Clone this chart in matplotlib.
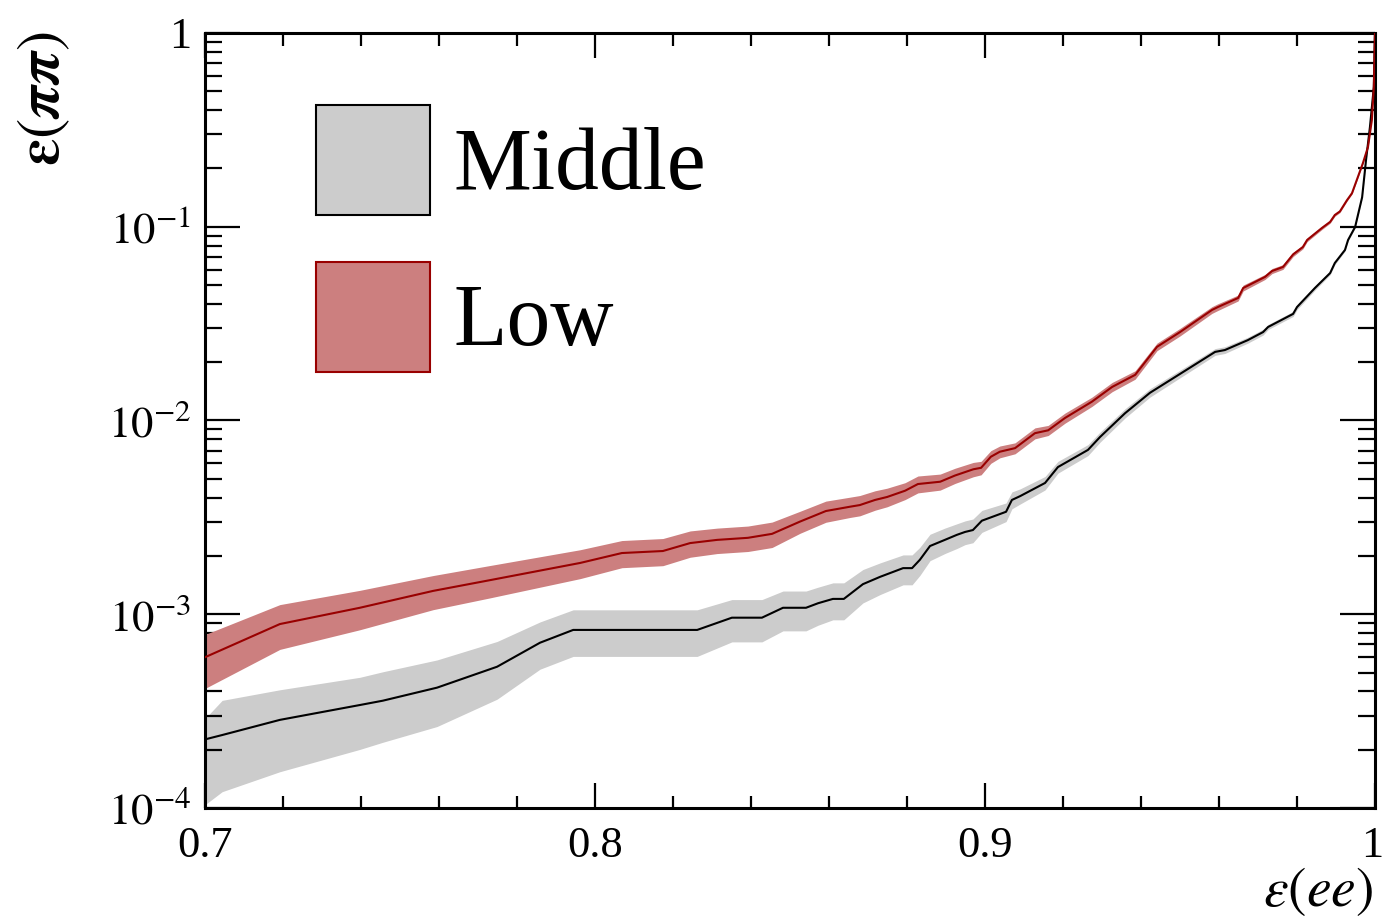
import matplotlib
matplotlib.use("Agg")
import matplotlib.pyplot as plt
import numpy as np
from matplotlib.patches import Patch
from matplotlib.transforms import ScaledTranslation
from matplotlib.ticker import MultipleLocator, LogLocator, FixedLocator, FixedFormatter

plt.rcParams["font.family"] = ["Liberation Serif", "DejaVu Serif"]
plt.rcParams["mathtext.fontset"] = "stix"

# ---- efficiency curves: eps(pipi) vs eps(ee) ----
low_x = [0.7000, 0.7192, 0.7397, 0.7585, 0.7731, 0.7962, 0.8069, 0.8174, 0.8244, 0.8313,
         0.8392, 0.8454, 0.8526, 0.8592, 0.8654, 0.8679, 0.8718, 0.8749, 0.8795, 0.8828,
         0.8885, 0.8923, 0.8970, 0.8990, 0.9015, 0.9038, 0.9077, 0.9128, 0.9162, 0.9205,
         0.9274, 0.9326, 0.9385, 0.9441, 0.9500, 0.9582, 0.9597, 0.9649, 0.9662, 0.9718,
         0.9736, 0.9764, 0.9790, 0.9815, 0.9826, 0.9864, 0.9885, 0.9897, 0.9910, 0.9928,
         0.9941, 0.9969, 0.9982, 0.9992, 0.9997, 1.0000]
low_y = [6.0e-4, 8.9e-4, 1.08e-3, 1.32e-3, 1.50e-3, 1.84e-3, 2.07e-3, 2.12e-3, 2.33e-3, 2.42e-3,
         2.48e-3, 2.60e-3, 3.01e-3, 3.41e-3, 3.59e-3, 3.66e-3, 3.89e-3, 4.03e-3, 4.34e-3, 4.70e-3,
         4.83e-3, 5.2e-3, 5.6e-3, 5.7e-3, 6.5e-3, 6.9e-3, 7.2e-3, 8.6e-3, 8.9e-3, 1.03e-2,
         1.25e-2, 1.49e-2, 1.72e-2, 2.40e-2, 2.86e-2, 3.72e-2, 3.85e-2, 4.29e-2, 4.83e-2, 5.51e-2,
         5.91e-2, 6.20e-2, 7.2e-2, 7.86e-2, 8.55e-2, 9.86e-2, 0.106, 0.115, 0.120, 0.137,
         0.149, 0.213, 0.258, 0.356, 0.526, 1.0]
# relative uncertainty of each point
low_err = [0.31, 0.26, 0.23, 0.20, 0.19, 0.17, 0.16, 0.16, 0.155, 0.15,
           0.15, 0.15, 0.13, 0.125, 0.12, 0.12, 0.115, 0.11, 0.10, 0.10,
           0.095, 0.09, 0.085, 0.08, 0.075, 0.07, 0.065, 0.065, 0.06, 0.06,
           0.055, 0.055, 0.05, 0.045, 0.045, 0.04, 0.04, 0.035, 0.035, 0.03,
           0.03, 0.028, 0.025, 0.022, 0.02, 0.018, 0.016, 0.015, 0.014, 0.012,
           0.011, 0.008, 0.006, 0.004, 0.002, 0.0]

mid_x = [0.7000, 0.7044, 0.7192, 0.7397, 0.7456, 0.7595, 0.7749, 0.7859, 0.7944, 0.8262,
         0.8351, 0.8428, 0.8482, 0.8541, 0.8572, 0.8610, 0.8638, 0.8687, 0.8731, 0.8790,
         0.8813, 0.8833, 0.8859, 0.8897, 0.8928, 0.8949, 0.8969, 0.8992, 0.9054, 0.9069,
         0.9090, 0.9154, 0.9187, 0.9264, 0.9295, 0.9359, 0.9423, 0.9590, 0.9615, 0.9674,
         0.9713, 0.9726, 0.9790, 0.9800, 0.9846, 0.9885, 0.9897, 0.9923, 0.9931, 0.9949,
         0.9967, 0.9977, 0.9987, 0.9997, 1.0000]
mid_y = [2.26e-4, 2.38e-4, 2.85e-4, 3.40e-4, 3.58e-4, 4.18e-4, 5.36e-4, 7.13e-4, 8.3e-4, 8.3e-4,
         9.6e-4, 9.6e-4, 1.08e-3, 1.08e-3, 1.14e-3, 1.20e-3, 1.20e-3, 1.43e-3, 1.56e-3, 1.73e-3,
         1.73e-3, 1.91e-3, 2.25e-3, 2.42e-3, 2.57e-3, 2.66e-3, 2.72e-3, 3.04e-3, 3.38e-3, 3.89e-3,
         4.07e-3, 4.76e-3, 5.75e-3, 7.05e-3, 8.22e-3, 1.09e-2, 1.39e-2, 2.26e-2, 2.31e-2, 2.60e-2,
         2.86e-2, 3.04e-2, 3.55e-2, 3.85e-2, 4.83e-2, 5.77e-2, 6.50e-2, 7.59e-2, 8.55e-2, 9.97e-2,
         0.142, 0.221, 0.327, 0.526, 1.0]
mid_err_up = [0.28, 0.51, 0.43, 0.39, 0.41, 0.39, 0.35, 0.28, 0.27, 0.27,
              0.24, 0.24, 0.22, 0.22, 0.21, 0.21, 0.21, 0.19, 0.18, 0.17,
              0.17, 0.16, 0.15, 0.15, 0.14, 0.14, 0.14, 0.13, 0.11, 0.10,
              0.09, 0.08, 0.07, 0.065, 0.06, 0.055, 0.05, 0.04, 0.04, 0.035,
              0.035, 0.03, 0.03, 0.03, 0.025, 0.02, 0.02, 0.015, 0.015, 0.012,
              0.01, 0.008, 0.005, 0.003, 0.0]
mid_err_dn = [0.54, 0.49, 0.46, 0.41, 0.39, 0.37, 0.32, 0.27, 0.27, 0.27,
              0.25, 0.25, 0.24, 0.24, 0.23, 0.22, 0.22, 0.20, 0.19, 0.18,
              0.18, 0.17, 0.16, 0.15, 0.15, 0.14, 0.14, 0.13, 0.11, 0.10,
              0.09, 0.08, 0.07, 0.065, 0.06, 0.055, 0.05, 0.04, 0.04, 0.035,
              0.035, 0.03, 0.03, 0.03, 0.025, 0.02, 0.02, 0.015, 0.015, 0.012,
              0.01, 0.008, 0.005, 0.003, 0.0]

series_names = ["Middle", "Low"]
y_tick_vals = [1e-4, 1e-3, 1e-2, 1e-1, 1]
y_tick_text = [r"$10^{-4}$", r"$10^{-3}$", r"$10^{-2}$", r"$10^{-1}$", "1"]
x_tick_vals = [0.7, 0.8, 0.9, 1.0]
x_tick_text = ["0.7", "0.8", "0.9", "1"]

GREY_FILL = "#cccccc"
RED_FILL = "#cc7f7f"
RED_LINE = "#990000"

W, H = 1383, 921
fig = plt.figure(figsize=(W / 100, H / 100), dpi=100)
ax = fig.add_axes([205 / W, 1 - 808 / H, (1375 - 205) / W, (808 - 33) / H])

mx, my = np.array(mid_x), np.array(mid_y)
lx, ly = np.array(low_x), np.array(low_y)

ax.fill_between(mx, my * (1 - np.array(mid_err_dn)), my * (1 + np.array(mid_err_up)),
                color=GREY_FILL, lw=0, zorder=1)
ax.fill_between(lx, ly * (1 - np.array(low_err)), ly * (1 + np.array(low_err)),
                color=RED_FILL, lw=0, zorder=2)
ax.plot(mx, my, color="black", lw=1.5, zorder=3)
ax.plot(lx, ly, color=RED_LINE, lw=1.5, zorder=4)

ax.set_yscale("log")
ax.set_xlim(0.7, 1.0)
ax.set_ylim(1e-4, 1)

ax.xaxis.set_major_locator(FixedLocator(x_tick_vals))
ax.xaxis.set_major_formatter(FixedFormatter(x_tick_text))
ax.xaxis.set_minor_locator(MultipleLocator(0.02))
ax.yaxis.set_major_locator(FixedLocator(y_tick_vals))
ax.yaxis.set_major_formatter(FixedFormatter(y_tick_text))
ax.yaxis.set_minor_locator(LogLocator(base=10, subs=np.arange(2, 10), numticks=20))
ax.yaxis.set_minor_formatter(FixedFormatter([]))

ax.tick_params(axis="both", which="both", direction="in", top=True, right=True,
               width=1.6, colors="black")
ax.tick_params(axis="x", which="major", length=18, pad=13, labelsize=32)
ax.tick_params(axis="x", which="minor", length=9)
ax.tick_params(axis="y", which="major", length=25, pad=10, labelsize=32)
ax.tick_params(axis="y", which="minor", length=12.5)
for sp in ax.spines.values():
    sp.set_linewidth(2.2)

# keep the last x label inside the canvas
fig.canvas.draw()
last = ax.get_xticklabels()[-1]
last.set_transform(last.get_transform() + ScaledTranslation(-3 / 100, 0, fig.dpi_scale_trans))

# axis titles at the ends of the axes
fig.text(1373 / W, 1 - 918 / H, r"$\varepsilon(ee)$", ha="right", va="bottom",
         fontsize=40)
fig.text(44 / W, 1 - 31 / H, r"$\boldsymbol{\varepsilon}(\boldsymbol{\pi\pi})$",
         ha="center", va="top", rotation=90, fontsize=44)

handles = [Patch(facecolor=GREY_FILL, edgecolor="black", linewidth=1.5),
           Patch(facecolor=RED_FILL, edgecolor=RED_LINE, linewidth=1.5)]
ax.legend(handles, series_names, loc="upper left",
          bbox_to_anchor=(316 / W, 1 - 105 / H), bbox_transform=fig.transFigure,
          frameon=False, fontsize=63, handlelength=1.3, handleheight=1.56,
          labelspacing=0.53, handletextpad=0.27, borderpad=0, borderaxespad=0)

fig.savefig("out.png", dpi=100)
